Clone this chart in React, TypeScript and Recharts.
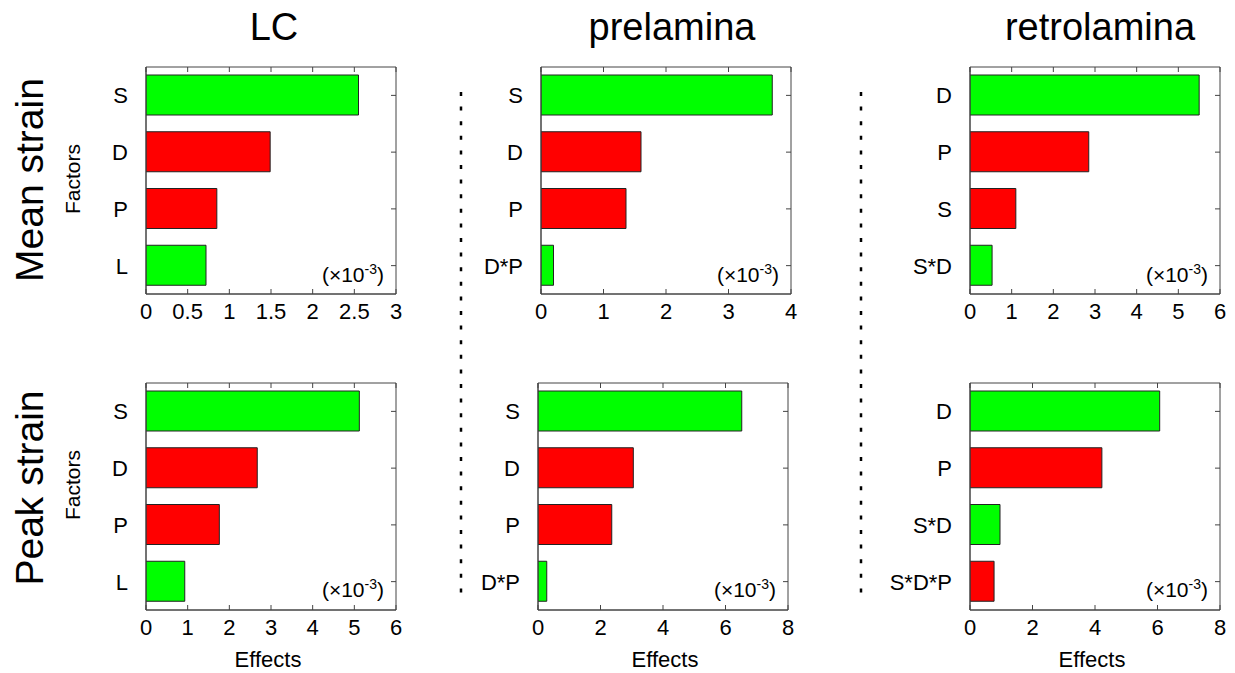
import React from "react";
import { BarChart, Bar, XAxis, YAxis, Cell, CartesianGrid } from "recharts";

// LC
const lcMeanFactors = ["S", "D", "P", "L"];
const lcMeanEffects = [2.55, 1.49, 0.85, 0.72];
const lcMeanSigns = [1, -1, -1, 1];
const lcMeanTicks = [0, 0.5, 1, 1.5, 2, 2.5, 3];

const lcPeakFactors = ["S", "D", "P", "L"];
const lcPeakEffects = [5.12, 2.67, 1.76, 0.93];
const lcPeakSigns = [1, -1, -1, 1];
const lcPeakTicks = [0, 1, 2, 3, 4, 5, 6];

// prelamina
const preMeanFactors = ["S", "D", "P", "D*P"];
const preMeanEffects = [3.7, 1.6, 1.36, 0.2];
const preMeanSigns = [1, -1, -1, 1];
const preMeanTicks = [0, 1, 2, 3, 4];

const prePeakFactors = ["S", "D", "P", "D*P"];
const prePeakEffects = [6.52, 3.05, 2.36, 0.28];
const prePeakSigns = [1, -1, -1, 1];
const prePeakTicks = [0, 2, 4, 6, 8];

// retrolamina
const retroMeanFactors = ["D", "P", "S", "S*D"];
const retroMeanEffects = [5.5, 2.85, 1.1, 0.53];
const retroMeanSigns = [1, -1, -1, 1];
const retroMeanTicks = [0, 1, 2, 3, 4, 5, 6];

const retroPeakFactors = ["D", "P", "S*D", "S*D*P"];
const retroPeakEffects = [6.07, 4.22, 0.96, 0.77];
const retroPeakSigns = [1, -1, 1, -1];
const retroPeakTicks = [0, 2, 4, 6, 8];

const columnTitles = ["LC", "prelamina", "retrolamina"];
const rowTitles = ["Mean strain", "Peak strain"];

const GREEN = "#00ff00";
const RED = "#ff0000";
const AX = "#444";
const FONT = "'Liberation Sans', Arial, Helvetica, sans-serif";

const PW = 250; // plot width
const PH = 227; // plot height
const YW = 110; // y axis width
const XH = 42; // x axis height
const M = 4;
const MR = 24;
const TICK_FS = 22;

function BottomTick(props: any) {
  const { x, y, payload } = props;
  const axisY = y - 6;
  const topY = axisY - PH;
  return (
    <g>
      <line x1={x} x2={x} y1={axisY} y2={axisY - 5} stroke={AX} />
      <line x1={x} x2={x} y1={topY} y2={topY + 5} stroke={AX} />
      <text x={x} y={y} dy={19} textAnchor="middle" fontSize={TICK_FS} fontFamily={FONT} fill="#000">
        {String(payload.value)}
      </text>
    </g>
  );
}

function LeftTick(props: any) {
  const { x, y, payload } = props;
  const edge = x + 18 + PW;
  return (
    <g>
      <line x1={edge - 5} x2={edge} y1={y} y2={y} stroke={AX} />
      <text x={x} y={y} dy={8} textAnchor="end" fontSize={TICK_FS} fontFamily={FONT} fill="#000">
        {payload.value}
      </text>
    </g>
  );
}

type PanelProps = {
  factors: string[];
  effects: number[];
  signs: number[];
  ticks: number[];
  left: number;
  top: number;
};

function Panel({ factors, effects, signs, ticks, left, top }: PanelProps) {
  const data = factors.map((f, i) => ({ factor: f, effect: effects[i], sign: signs[i] }));
  const max = ticks[ticks.length - 1];
  return (
    <div style={{ position: "absolute", left: left - YW, top: top - M }}>
      <BarChart
        layout="vertical"
        width={YW + PW + MR}
        height={M + PH + XH}
        data={data}
        margin={{ top: M, right: MR, bottom: 0, left: 0 }}
        barSize={40}
      >
        <CartesianGrid
          stroke={AX}
          fill="none"
          horizontalCoordinatesGenerator={({ offset }: any) => [offset.top, offset.top + offset.height]}
          verticalCoordinatesGenerator={({ offset }: any) => [offset.left, offset.left + offset.width]}
        />
        <XAxis
          type="number"
          dataKey="effect"
          domain={[0, max]}
          ticks={ticks}
          interval={0}
          allowDataOverflow
          height={XH}
          tickSize={0}
          tickMargin={6}
          tickLine={false}
          axisLine={{ stroke: AX }}
          tick={<BottomTick />}
        />
        <YAxis
          type="category"
          dataKey="factor"
          width={YW}
          interval={0}
          tickSize={0}
          tickMargin={18}
          tickLine={false}
          axisLine={{ stroke: AX }}
          tick={<LeftTick />}
        />
        <Bar dataKey="effect" isAnimationActive={false} stroke="#222" strokeWidth={1}>
          {data.map((d, i) => (
            <Cell key={i} fill={d.sign > 0 ? GREEN : RED} />
          ))}
        </Bar>
      </BarChart>
    </div>
  );
}

const plotLefts = [146, 541, 970];
const plotTopsMean = [67, 67, 67];
const plotTopsPeak = [383, 383, 383];
const peakLefts = [146, 538, 970];

function Annotation({ right, bottom }: { right: number; bottom: number }) {
  return (
    <text x={right} y={bottom} textAnchor="end" fontSize={21} fontFamily={FONT} fill="#000">
      (×10
      <tspan fontSize={14} dy={-8}>-3</tspan>
      <tspan dy={8}>)</tspan>
    </text>
  );
}

export default function App() {
  const titleX = [274, 672, 1100];
  const effectsX = [268, 665, 1092];
  return (
    <div style={{ position: "absolute", left: 0, top: 0, width: 1235, height: 673, background: "#fff" }}>
      <Panel factors={lcMeanFactors} effects={lcMeanEffects} signs={lcMeanSigns} ticks={lcMeanTicks} left={plotLefts[0]} top={plotTopsMean[0]} />
      <Panel factors={preMeanFactors} effects={preMeanEffects} signs={preMeanSigns} ticks={preMeanTicks} left={plotLefts[1]} top={plotTopsMean[1]} />
      <Panel factors={retroMeanFactors} effects={retroMeanEffects} signs={retroMeanSigns} ticks={retroMeanTicks} left={plotLefts[2]} top={plotTopsMean[2]} />
      <Panel factors={lcPeakFactors} effects={lcPeakEffects} signs={lcPeakSigns} ticks={lcPeakTicks} left={peakLefts[0]} top={plotTopsPeak[0]} />
      <Panel factors={prePeakFactors} effects={prePeakEffects} signs={prePeakSigns} ticks={prePeakTicks} left={peakLefts[1]} top={plotTopsPeak[1]} />
      <Panel factors={retroPeakFactors} effects={retroPeakEffects} signs={retroPeakSigns} ticks={retroPeakTicks} left={peakLefts[2]} top={plotTopsPeak[2]} />
      <svg width={1235} height={673} style={{ position: "absolute", left: 0, top: 0, pointerEvents: "none" }}>
        {columnTitles.map((t, i) => (
          <text key={t} x={titleX[i]} y={40} textAnchor="middle" fontSize={38} fontFamily={FONT} fill="#000">
            {t}
          </text>
        ))}
        <text transform="translate(43,180) rotate(-90)" textAnchor="middle" fontSize={39} fontFamily={FONT} fill="#000">
          {rowTitles[0]}
        </text>
        <text transform="translate(43,488) rotate(-90)" textAnchor="middle" fontSize={39} fontFamily={FONT} fill="#000">
          {rowTitles[1]}
        </text>
        <text transform="translate(80,179) rotate(-90)" textAnchor="middle" fontSize={21} fontFamily={FONT} fill="#000">
          Factors
        </text>
        <text transform="translate(80,485) rotate(-90)" textAnchor="middle" fontSize={21} fontFamily={FONT} fill="#000">
          Factors
        </text>
        {effectsX.map((x, i) => (
          <text key={i} x={x} y={667} textAnchor="middle" fontSize={22} fontFamily={FONT} fill="#000">
            Effects
          </text>
        ))}
        {plotLefts.map((l, i) => (
          <Annotation key={"m" + i} right={l + PW - 12} bottom={plotTopsMean[i] + PH - 12} />
        ))}
        {peakLefts.map((l, i) => (
          <Annotation key={"p" + i} right={l + PW - 12} bottom={plotTopsPeak[i] + PH - 13} />
        ))}
        <line x1={461} x2={461} y1={92} y2={600} stroke="#000" strokeWidth={2.5} strokeDasharray="4 10.6" />
        <line x1={861} x2={861} y1={92} y2={600} stroke="#000" strokeWidth={2.5} strokeDasharray="4 10.6" />
      </svg>
    </div>
  );
}
